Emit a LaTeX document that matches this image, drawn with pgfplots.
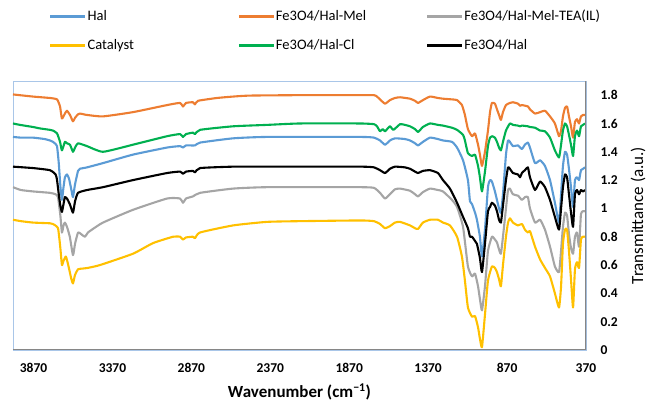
\documentclass[border=0pt]{standalone}
\usepackage{pgfplots}
\pgfplotsset{compat=1.18}
\usepackage{fontspec}
\setmainfont{Carlito}
\definecolor{cBlue}{HTML}{5B9BD5}
\definecolor{cOrange}{HTML}{ED7D31}
\definecolor{cGray}{HTML}{A5A5A5}
\definecolor{cYellow}{HTML}{FFC000}
\definecolor{cGreen}{HTML}{00B050}
\definecolor{axisblue}{HTML}{A9C6E8}
\definecolor{axisgray}{HTML}{868686}
\begin{document}
\begin{tikzpicture}
\useasboundingbox (0,0) rectangle (646bp,406bp);
\begin{axis}[
  at={(13bp,56bp)}, anchor=south west,
  scale only axis, width=573bp, height=269bp,
  x dir=reverse, xmin=370, xmax=4000, ymin=0, ymax=1.9,
  xtick={370,870,1370,1870,2370,2870,3370,3870},
  ytick={0,0.2,0.4,0.6,0.8,1,1.2,1.4,1.6,1.8},
  yticklabel pos=right,
  major tick length=0pt,
  axis line style={draw=axisblue, line width=0.9bp},
  /pgf/number format/assume math mode=true,
  /pgf/number format/1000 sep={},
  tick label style={font=\fontsize{13.5bp}{16bp}\selectfont\bfseries},
  yticklabel style={anchor=west, xshift=11bp},
  xticklabel style={anchor=center, yshift=-18bp},
  xlabel={Wavenumber (cm\textsuperscript{−1})},
  ylabel={Transmittance (a.u.)},
  every axis x label/.style={at={(axis description cs:0.5,0)}, anchor=center, yshift=-42bp, font=\fontsize{17bp}{20bp}\selectfont\bfseries},
  every axis y label/.style={at={(axis description cs:1.0908,0.5)}, anchor=center, rotate=90, font=\fontsize{17bp}{20bp}\selectfont},
  legend columns=3,
  legend style={at={(axis description cs:0.0628,1.268)}, anchor=north west, draw=none, fill=none,
    inner sep=0pt, row sep=14bp,
    nodes={inner sep=1bp, text height=10bp, text depth=3bp, font=\fontsize{14.5bp}{17bp}\selectfont}},
  legend cell align=left,
  legend image code/.code={\draw[#1, line width=2.4bp] (0bp,0bp) -- (35bp,0bp);},
  every axis plot/.append style={line width=2.1bp, line join=round, mark=none, smooth, tension=0.3},
]
\addplot[cBlue] coordinates {(4000,1.505)(3950,1.50)(3873,1.50)(3800,1.49)(3766,1.48)(3747,1.47)(3730,1.455)(3721,1.44)(3710,1.32)(3700,1.16)(3690,1.06)(3680,1.15)(3671,1.22)(3658,1.24)(3645,1.21)(3630,1.13)(3620,1.08)(3607,1.17)(3588,1.265)(3576,1.28)(3531,1.29)(3430,1.32)(3240,1.38)(3024,1.43)(2942,1.44)(2923,1.43)(2904,1.445)(2847,1.445)(2815,1.465)(2606,1.495)(2391,1.505)(1802,1.505)(1713,1.50)(1675,1.48)(1643,1.45)(1612,1.48)(1580,1.495)(1517,1.49)(1485,1.48)(1453,1.46)(1434,1.445)(1403,1.47)(1358,1.50)(1308,1.49)(1276,1.48)(1219,1.47)(1187,1.43)(1149,1.34)(1118,1.20)(1105,1.05)(1092,1.03)(1073,0.97)(1061,0.92)(1042,0.80)(1029,0.66)(1010,0.85)(991,1.15)(978,1.20)(966,1.19)(947,1.12)(921,1.00)(909,0.97)(896,1.10)(877,1.38)(864,1.48)(852,1.47)(833,1.44)(801,1.445)(776,1.42)(757,1.45)(738,1.465)(725,1.43)(693,1.32)(661,1.34)(630,1.30)(598,1.20)(567,1.04)(541,0.90)(528,1.10)(516,1.30)(503,1.40)(490,1.38)(478,1.28)(465,1.15)(452,1.01)(440,1.20)(427,1.22)(414,1.20)(402,1.27)(389,1.28)(376,1.29)};
\addlegendentry{\makebox[149bp][l]{Hal}}
\addplot[cOrange] coordinates {(4000,1.805)(3873,1.79)(3766,1.78)(3721,1.77)(3702,1.72)(3690,1.635)(3671,1.67)(3658,1.69)(3639,1.66)(3620,1.615)(3607,1.64)(3588,1.665)(3576,1.67)(3530,1.66)(3430,1.65)(3240,1.68)(3024,1.73)(2942,1.745)(2923,1.72)(2904,1.745)(2860,1.75)(2847,1.735)(2828,1.76)(2708,1.78)(2606,1.79)(2499,1.797)(2182,1.80)(1802,1.80)(1713,1.80)(1694,1.79)(1675,1.77)(1643,1.74)(1612,1.765)(1580,1.78)(1548,1.785)(1485,1.775)(1453,1.76)(1434,1.745)(1403,1.765)(1358,1.79)(1308,1.78)(1276,1.775)(1219,1.77)(1187,1.765)(1156,1.73)(1137,1.66)(1118,1.56)(1092,1.51)(1073,1.53)(1054,1.45)(1042,1.38)(1029,1.30)(1010,1.40)(991,1.55)(978,1.68)(966,1.745)(947,1.74)(934,1.70)(921,1.66)(909,1.625)(896,1.68)(877,1.73)(852,1.745)(833,1.75)(801,1.74)(788,1.725)(776,1.73)(738,1.72)(725,1.70)(693,1.67)(661,1.68)(630,1.69)(598,1.65)(567,1.60)(541,1.51)(528,1.55)(516,1.65)(503,1.71)(490,1.72)(478,1.65)(465,1.58)(452,1.50)(440,1.61)(427,1.63)(414,1.60)(402,1.65)(389,1.66)(376,1.66)};
\addlegendentry{\makebox[149bp][l]{Fe3O4/Hal-Mel}}
\addplot[cGray] coordinates {(4000,1.15)(3950,1.13)(3873,1.12)(3766,1.11)(3730,1.10)(3715,1.08)(3700,0.95)(3690,0.83)(3680,0.88)(3671,0.90)(3658,0.87)(3640,0.80)(3620,0.67)(3607,0.75)(3588,0.83)(3570,0.82)(3545,0.80)(3525,0.83)(3500,0.85)(3430,0.90)(3240,0.99)(3024,1.07)(2942,1.07)(2923,1.04)(2904,1.07)(2860,1.085)(2815,1.11)(2606,1.14)(2391,1.15)(1802,1.15)(1713,1.145)(1675,1.11)(1643,1.07)(1612,1.10)(1580,1.135)(1548,1.14)(1485,1.125)(1453,1.10)(1434,1.085)(1403,1.115)(1358,1.14)(1308,1.13)(1276,1.12)(1219,1.06)(1187,1.01)(1149,0.87)(1118,0.59)(1092,0.52)(1073,0.54)(1054,0.45)(1042,0.36)(1029,0.28)(1010,0.45)(991,0.70)(966,0.80)(947,0.78)(934,0.76)(921,0.71)(909,0.68)(896,0.80)(877,1.00)(864,1.13)(852,1.14)(833,1.10)(801,1.09)(776,1.06)(757,1.08)(738,1.08)(725,1.00)(693,0.90)(661,0.92)(630,0.85)(598,0.73)(567,0.59)(541,0.55)(528,0.70)(516,0.87)(503,0.97)(490,0.95)(478,0.82)(465,0.72)(452,0.68)(440,0.80)(427,0.83)(414,0.73)(402,0.96)(389,0.98)(376,0.98)};
\addlegendentry{Fe3O4/Hal-Mel-TEA(IL)}
\addplot[cYellow] coordinates {(4000,0.92)(3950,0.91)(3873,0.90)(3766,0.895)(3747,0.89)(3715,0.86)(3700,0.72)(3690,0.60)(3680,0.63)(3665,0.66)(3650,0.60)(3630,0.50)(3620,0.47)(3607,0.53)(3588,0.57)(3560,0.575)(3525,0.58)(3449,0.60)(3240,0.68)(3113,0.755)(2986,0.80)(2942,0.80)(2923,0.78)(2904,0.795)(2860,0.80)(2847,0.79)(2815,0.83)(2606,0.88)(2391,0.905)(2182,0.91)(1802,0.915)(1713,0.91)(1675,0.89)(1643,0.86)(1612,0.875)(1580,0.90)(1548,0.905)(1485,0.88)(1453,0.86)(1434,0.855)(1403,0.90)(1358,0.92)(1308,0.92)(1276,0.90)(1232,0.88)(1187,0.80)(1156,0.66)(1137,0.49)(1118,0.30)(1092,0.235)(1073,0.24)(1054,0.16)(1042,0.08)(1029,0.02)(1010,0.25)(991,0.49)(966,0.59)(947,0.58)(934,0.55)(921,0.50)(909,0.45)(896,0.60)(877,0.80)(864,0.90)(852,0.93)(833,0.90)(801,0.88)(776,0.89)(757,0.85)(738,0.83)(725,0.84)(693,0.73)(661,0.64)(630,0.58)(598,0.52)(567,0.40)(541,0.30)(528,0.45)(516,0.75)(503,0.85)(490,0.85)(478,0.70)(465,0.50)(452,0.30)(440,0.57)(427,0.62)(414,0.58)(402,0.78)(389,0.80)(376,0.80)};
\addlegendentry{\makebox[149bp][l]{Catalyst}}
\addplot[cGreen] coordinates {(4000,1.60)(3956,1.59)(3873,1.575)(3829,1.565)(3766,1.555)(3747,1.55)(3721,1.53)(3702,1.47)(3690,1.41)(3671,1.47)(3658,1.46)(3639,1.45)(3620,1.40)(3607,1.43)(3588,1.46)(3531,1.44)(3430,1.40)(3240,1.45)(3024,1.51)(2942,1.525)(2923,1.505)(2904,1.525)(2860,1.535)(2847,1.525)(2815,1.555)(2606,1.58)(2391,1.59)(2182,1.60)(1802,1.60)(1713,1.595)(1694,1.58)(1675,1.545)(1658,1.56)(1643,1.545)(1612,1.58)(1590,1.555)(1548,1.595)(1517,1.59)(1485,1.58)(1453,1.56)(1434,1.54)(1403,1.575)(1358,1.60)(1308,1.59)(1276,1.585)(1219,1.57)(1187,1.555)(1149,1.52)(1137,1.48)(1118,1.39)(1092,1.37)(1073,1.38)(1054,1.30)(1042,1.22)(1029,1.12)(1010,1.26)(991,1.44)(978,1.50)(966,1.51)(947,1.50)(934,1.47)(921,1.43)(909,1.41)(896,1.47)(877,1.55)(852,1.60)(833,1.59)(801,1.585)(788,1.58)(776,1.585)(738,1.58)(725,1.575)(693,1.57)(661,1.55)(630,1.545)(598,1.50)(567,1.41)(541,1.36)(528,1.45)(516,1.55)(503,1.60)(490,1.58)(478,1.52)(465,1.45)(452,1.37)(440,1.51)(427,1.55)(414,1.51)(402,1.58)(389,1.59)(376,1.60)};
\addlegendentry{\makebox[149bp][l]{Fe3O4/Hal-Cl}}
\addplot[black] coordinates {(4000,1.295)(3873,1.285)(3766,1.27)(3730,1.24)(3721,1.20)(3710,1.10)(3700,1.02)(3690,0.975)(3680,1.03)(3671,1.08)(3658,1.07)(3640,1.03)(3620,0.97)(3607,1.05)(3588,1.11)(3531,1.13)(3430,1.15)(3240,1.20)(3024,1.25)(2942,1.26)(2923,1.245)(2904,1.26)(2860,1.265)(2847,1.255)(2815,1.285)(2606,1.295)(2391,1.295)(1802,1.295)(1713,1.29)(1675,1.27)(1643,1.25)(1612,1.28)(1580,1.295)(1517,1.29)(1485,1.28)(1453,1.26)(1434,1.25)(1403,1.265)(1358,1.27)(1308,1.25)(1276,1.20)(1232,1.14)(1187,1.04)(1149,0.94)(1118,0.86)(1105,0.80)(1092,0.80)(1073,0.77)(1061,0.75)(1042,0.65)(1029,0.55)(1010,0.75)(991,0.98)(978,1.01)(966,1.04)(947,1.02)(934,0.98)(921,0.92)(909,0.90)(896,1.02)(877,1.20)(864,1.29)(852,1.28)(833,1.25)(801,1.24)(788,1.22)(776,1.25)(757,1.27)(738,1.29)(725,1.22)(693,1.13)(661,1.19)(630,1.15)(598,1.06)(567,0.94)(541,0.85)(528,1.00)(516,1.15)(503,1.24)(490,1.22)(478,1.10)(465,0.97)(452,0.87)(440,1.10)(427,1.13)(414,1.10)(402,1.13)(389,1.12)(376,1.13)};
\addlegendentry{Fe3O4/Hal}
\draw[axisgray, line width=1.1bp] (rel axis cs:0,0) -- (rel axis cs:1,0) -- (rel axis cs:1,1);
\end{axis}
\end{tikzpicture}
\end{document}
